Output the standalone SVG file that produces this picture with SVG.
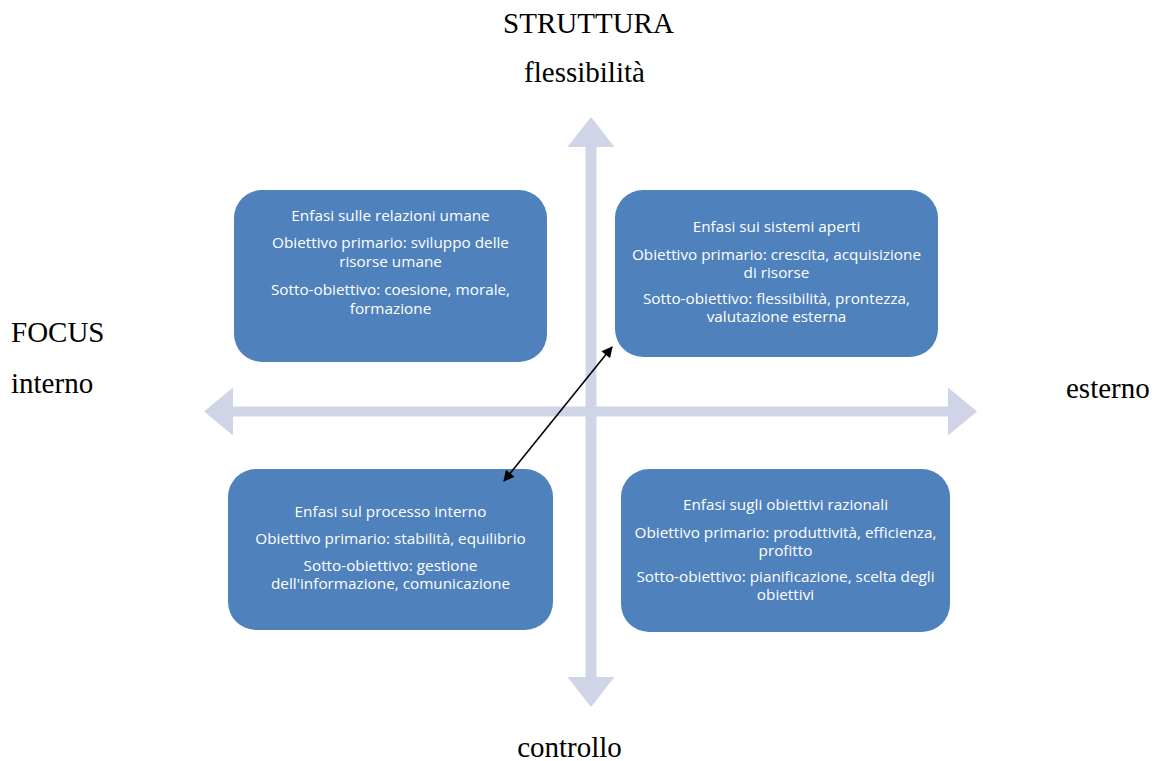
<svg xmlns="http://www.w3.org/2000/svg" width="1161" height="761" viewBox="0 0 1161 761">
  <style>
    .axis-label { font-family: "Liberation Serif", "Times New Roman", serif; font-size: 29px; fill: #000; }
    .box { fill: #4F81BD; }
    .box-text { font-family: "Open Sans", Lato, sans-serif; font-size: 15.3px; fill: #FFFFFF; text-anchor: middle; }
    .axis { fill: #CFD5E6; }
    .link { stroke: #000; stroke-width: 1.6; fill: none; marker-start: url(#head); marker-end: url(#head); }
  </style>
  <defs>
    <marker id="head" viewBox="0 0 10 10" refX="9" refY="5" markerWidth="12" markerHeight="11" markerUnits="userSpaceOnUse" orient="auto-start-reverse">
      <path d="M0,0 L10,5 L0,10 z" fill="#000"/>
    </marker>
  </defs>

  <rect width="1161" height="761" fill="#FFFFFF"/>

  <!-- axes: block double arrows -->
  <g id="axes">
    <path id="axis-horizontal" class="axis" d="M204,411.5 L233,387.5 L233,406.5 L948,406.5 L948,387.5 L977,411.5 L948,435.5 L948,416.5 L233,416.5 L233,435.5 Z"/>
    <path id="axis-vertical" class="axis" d="M591,117 L614.5,147 L596.5,147 L596.5,677 L614.5,677 L591,707 L567.5,677 L585.5,677 L585.5,147 L567.5,147 Z"/>
  </g>

  <!-- axis labels -->
  <g id="labels">
    <text class="axis-label" x="588.5" y="33" text-anchor="middle">STRUTTURA</text>
    <text class="axis-label" x="584.5" y="82" text-anchor="middle">flessibilità</text>
    <text class="axis-label" x="11" y="342">FOCUS</text>
    <text class="axis-label" x="11" y="393">interno</text>
    <text class="axis-label" x="1066" y="398">esterno</text>
    <text class="axis-label" x="569.5" y="757" text-anchor="middle">controllo</text>
  </g>

  <!-- quadrant nodes -->
  <g id="node-relazioni-umane">
    <rect class="box" x="234" y="190" width="313" height="172" rx="28" ry="28"/>
    <text class="box-text" x="390.5" y="221">Enfasi sulle relazioni umane</text>
    <text class="box-text" x="390.5" y="248">Obiettivo primario: sviluppo delle</text>
    <text class="box-text" x="390.5" y="267">risorse umane</text>
    <text class="box-text" x="390.5" y="295">Sotto-obiettivo: coesione, morale,</text>
    <text class="box-text" x="390.5" y="314">formazione</text>
  </g>

  <g id="node-sistemi-aperti">
    <rect class="box" x="615" y="190" width="323" height="167" rx="28" ry="28"/>
    <text class="box-text" x="776.5" y="232">Enfasi sui sistemi aperti</text>
    <text class="box-text" x="776.5" y="260">Obiettivo primario: crescita, acquisizione</text>
    <text class="box-text" x="776.5" y="278">di risorse</text>
    <text class="box-text" x="776.5" y="304">Sotto-obiettivo: flessibilità, prontezza,</text>
    <text class="box-text" x="776.5" y="322">valutazione esterna</text>
  </g>

  <g id="node-processo-interno">
    <rect class="box" x="228" y="469" width="325" height="161" rx="28" ry="28"/>
    <text class="box-text" x="390.5" y="517">Enfasi sul processo interno</text>
    <text class="box-text" x="390.5" y="544">Obiettivo primario: stabilità, equilibrio</text>
    <text class="box-text" x="390.5" y="571">Sotto-obiettivo: gestione</text>
    <text class="box-text" x="390.5" y="589">dell'informazione, comunicazione</text>
  </g>

  <g id="node-obiettivi-razionali">
    <rect class="box" x="621" y="469" width="329" height="163" rx="28" ry="28"/>
    <text class="box-text" x="785.5" y="510">Enfasi sugli obiettivi razionali</text>
    <text class="box-text" x="785.5" y="538">Obiettivo primario: produttività, efficienza,</text>
    <text class="box-text" x="785.5" y="556">profitto</text>
    <text class="box-text" x="785.5" y="582">Sotto-obiettivo: pianificazione, scelta degli</text>
    <text class="box-text" x="785.5" y="600">obiettivi</text>
  </g>

  <!-- connectors -->
  <g id="connectors">
    <line class="link" x1="504" y1="481" x2="612" y2="347"/>
  </g>
</svg>
